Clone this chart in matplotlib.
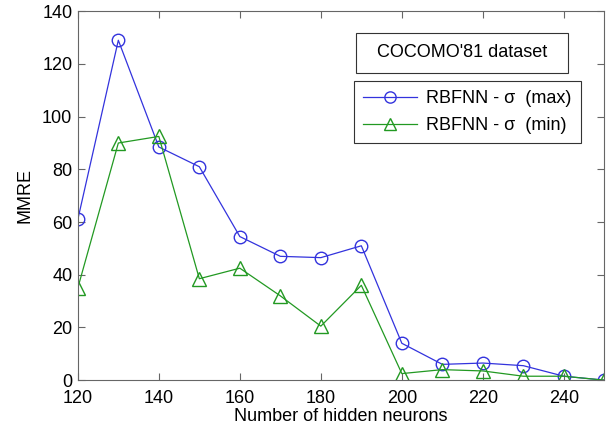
import matplotlib.pyplot as plt
from matplotlib.patches import Rectangle

plt.rcParams['font.family'] = ['Liberation Sans', 'DejaVu Sans']

neurons = [120, 130, 140, 150, 160, 170, 180, 190, 200, 210, 220, 230, 240, 250]
mmre_max = [61, 129, 88.5, 81, 54.5, 47, 46.5, 51, 14, 6, 6.5, 5.5, 1.5, 0]
mmre_min = [35, 90, 92.5, 38.5, 42.5, 32, 20.5, 36, 2.5, 4, 3.5, 1.5, 1.5, 0]

fig = plt.figure(figsize=(6.08, 4.33), dpi=100)
ax = fig.add_axes([0.128, 0.122, 0.866, 0.852])

ax.plot(neurons, mmre_max, color='#3333dd', lw=0.9, marker='o', ms=9,
        mfc='none', mec='#3333dd', label='RBFNN - \u03c3  (max)')
ax.plot(neurons, mmre_min, color='#229922', lw=0.9, marker='^', ms=10,
        mfc='none', mec='#229922', label='RBFNN - \u03c3  (min)')

ax.set_xlim(120, 250)
ax.set_ylim(0, 140)
ax.set_xticks(range(120, 250, 20))
ax.set_yticks(range(0, 141, 20))
ax.tick_params(direction='in', labelsize=13, length=5, color='#666666',
               top=True, right=True)
ax.tick_params(axis='y', pad=4)
ax.tick_params(axis='x', pad=7)
for s in ax.spines.values():
    s.set_color('#666666')
    s.set_linewidth(0.8)
ax.set_xlabel('Number of hidden neurons', fontsize=13, labelpad=1)
ax.set_ylabel('MMRE', fontsize=13, labelpad=6)

leg = ax.legend(loc='upper right', bbox_to_anchor=(0.955, 0.811), fontsize=13,
                fancybox=False, edgecolor='#333333', framealpha=1,
                handlelength=3.0, borderpad=0.5, labelspacing=0.55,
                handletextpad=0.5, borderaxespad=0, markerscale=0.9)
leg.get_frame().set_linewidth(0.8)

# dataset label box
ax.add_patch(Rectangle((0.529, 0.833), 0.402, 0.108, transform=ax.transAxes,
                       fc='white', ec='#333333', lw=0.8, zorder=5))
ax.text(0.73, 0.887, "COCOMO'81 dataset", transform=ax.transAxes, fontsize=13,
        va='center', ha='center', zorder=6)

fig.savefig('out.png', dpi=100)
